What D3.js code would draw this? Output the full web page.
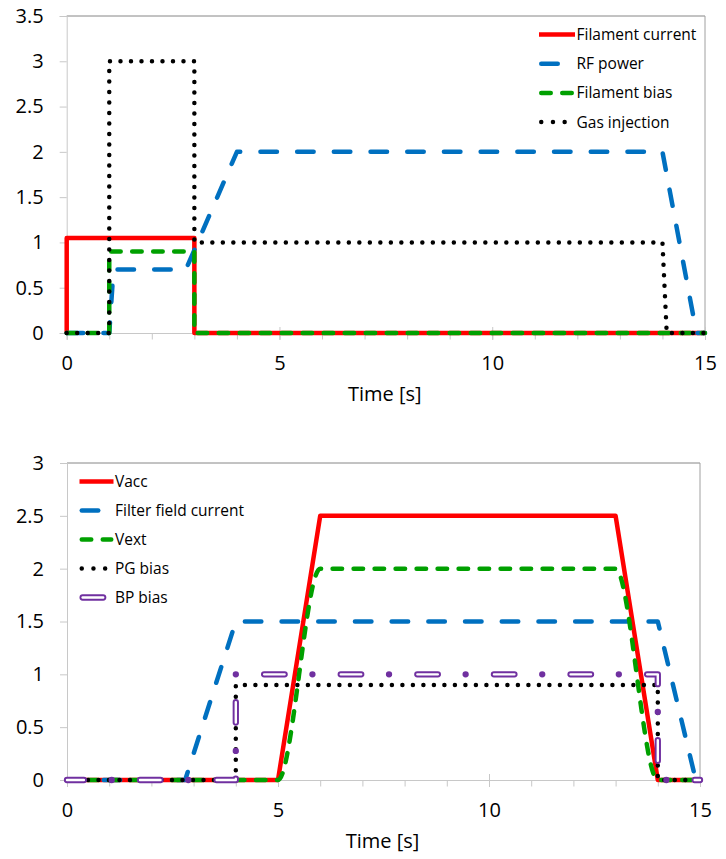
<!DOCTYPE html>
<html>
<head>
<meta charset="utf-8">
<script src="https://cdn.jsdelivr.net/npm/d3@7"></script>
<style>
  body { margin: 0; background: #fff; }
  svg { display: block; }
  text { font-family: "Open Sans", "Noto Sans", sans-serif; fill: #000; }
</style>
</head>
<body>
<script>
// time axis
const timeMajor = [0, 5, 10, 15];
const timeMinor = d3.range(0, 16);

// top panel: source start-up
const topYTicks = [0, 0.5, 1, 1.5, 2, 2.5, 3, 3.5];
const filamentCurrent = [[0, 0], [0, 1.05], [3, 1.05], [3, 0], [15, 0]];
const rfPower = [[0, 0], [1, 0], [1.1, 0.7], [2.8, 0.7], [4, 2], [14, 2], [14.8, 0], [15, 0]];
const filamentBias = [[0, 0], [1, 0], [1, 0.9], [3, 0.9], [3, 0], [15, 0]];
const gasInjection = [[0, 0], [1, 0], [1, 3], [3, 3], [3, 1], [14, 1], [14.1, 0], [15, 0]];

// bottom panel: beam extraction
const bottomYTicks = [0, 0.5, 1, 1.5, 2, 2.5, 3];
const vacc = [[0, 0], [5, 0], [6, 2.5], [13, 2.5], [14, 0], [15, 0]];
const filterField = [[0, 0], [2.8, 0], [4, 1.5], [14, 1.5], [14.9, 0], [15, 0]];
const vext = [[0, 0], [5, 0], [6, 2], [13, 2], [14, 0], [15, 0]];
const pgBias = [[0, 0], [4, 0], [4, 0.9], [14, 0.9], [14, 0], [15, 0]];
const bpBias = [[0, 0], [4, 0], [4, 1], [14, 1], [14, 0], [15, 0]];

const svg = d3.select('body').append('svg')
    .attr('width', 726)
    .attr('height', 859);

// line looks
const styles = {
    red: { color: '#ff0000', width: 4.5, dash: null },
    blue: { color: '#0070c0', width: 4.5, dash: '16.5,20.2', cap: 'round' },
    green: { color: '#00a000', width: 4.5, dash: '9.5,11.5', cap: 'round' },
    dots: { color: '#000', width: 4.5, dash: '0,10.5', legendDash: '0,11.7', cap: 'round' },
    purple: { color: '#7030a0', width: 6.3, dash: '20.5,27.8,0,28.3', inner: '20.5,56.1', offset: 3.6, cap: 'round', hollow: true }
};

function drawPanel(opt) {
    const g = svg.append('g');
    const x = d3.scaleLinear().domain([0, 15]).range([opt.left, opt.right]);
    const y = d3.scaleLinear().domain([0, opt.yMax]).range([opt.bottom, opt.top]);

    // plot frame: dark top/right, light axes
    g.append('line').attr('x1', opt.left).attr('x2', opt.right).attr('y1', opt.top).attr('y2', opt.top)
        .style('stroke', '#868686').style('stroke-width', 1);
    g.append('line').attr('x1', opt.right).attr('x2', opt.right).attr('y1', opt.top).attr('y2', opt.bottom)
        .style('stroke', '#a0a0a0').style('stroke-width', 1);

    const yAxis = g.append('g').attr('transform', 'translate(' + opt.left + ',0)')
        .call(d3.axisLeft(y).tickValues(opt.yTicks).tickSize(7).tickPadding(16).tickFormat(d => String(d)));
    yAxis.selectAll('path, line').style('stroke', '#c8c8c8');
    yAxis.selectAll('text').style('font-size', '20px').style('font-family', '"Open Sans", sans-serif');

    const minor = g.append('g').attr('transform', 'translate(0,' + opt.bottom + ')')
        .call(d3.axisBottom(x).tickValues(timeMinor).tickSize(6.5).tickFormat(''));
    minor.selectAll('path, line').style('stroke', '#c8c8c8');
    minor.select('path').remove();

    const xAxis = g.append('g').attr('transform', 'translate(0,' + opt.bottom + ')')
        .call(d3.axisBottom(x).tickValues(timeMajor).tickSize(7).tickSizeOuter(0));
    xAxis.selectAll('path, line').style('stroke', '#c8c8c8');
    xAxis.selectAll('.tick line').attr('y1', -6);
    xAxis.selectAll('text').attr('y', 23).style('font-size', '20px')
        .style('font-family', '"Open Sans", sans-serif');

    g.append('text')
        .attr('x', (opt.left + opt.right) / 2 - 1)
        .attr('y', opt.bottom + 68)
        .attr('text-anchor', 'middle')
        .style('font-size', '20px')
        .text('Time [s]');

    const line = d3.line().x(d => x(d[0])).y(d => y(d[1]));

    opt.series.forEach(s => {
        const st = styles[s.style];
        const gen = s.smooth ? d3.line().x(d => x(d[0])).y(d => y(d[1])).curve(d3.curveMonotoneX) : line;
        drawStroke(g.append('path').datum(s.data).attr('d', gen), st, false);
    });

    // legend
    opt.series.forEach((s, i) => {
        const st = styles[s.style];
        const ly = opt.legendY + i * opt.legendStep;
        const x1 = opt.legendX, x2 = opt.legendX + opt.legendLen;
        const p = g.append('path').attr('d', 'M' + (st.cap ? x1 + st.width / 2 : x1) + ',' + ly + 'H' + (st.cap ? x2 - st.width / 2 : x2));
        drawStroke(p, st, true);
        g.append('text')
            .attr('x', x2 + 1.5)
            .attr('y', ly)
            .attr('dy', '0.35em')
            .style('font-size', '15.5px')
            .text(s.name);
    });
}

function drawStroke(p, st, legend) {
    p.style('fill', 'none')
        .style('stroke', st.color)
        .style('stroke-width', st.width)
        .style('stroke-linejoin', 'round')
        .style('stroke-linecap', st.cap || 'butt');
    let dash = st.dash;
    if (legend && st.legendDash) dash = st.legendDash;
    if (dash) p.style('stroke-dasharray', dash);
    if (st.offset && !legend) p.style('stroke-dashoffset', st.offset);
    if (st.hollow) {
        const inner = p.clone()
            .style('stroke', '#fff')
            .style('stroke-width', 2.4)
            .style('stroke-dasharray', st.inner);
        if (legend) inner.style('stroke-dashoffset', 0);
    }
}

drawPanel({
    left: 66.7, right: 705, top: 16, bottom: 333, yMax: 3.5, yTicks: topYTicks,
    legendX: 539, legendLen: 36, legendY: 34.5, legendStep: 29.2,
    series: [
        { name: 'Filament current', data: filamentCurrent, style: 'red' },
        { name: 'RF power', data: rfPower, style: 'blue' },
        { name: 'Filament bias', data: filamentBias, style: 'green' },
        { name: 'Gas injection', data: gasInjection, style: 'dots' }
    ]
});

drawPanel({
    left: 67, right: 700, top: 463, bottom: 780, yMax: 3, yTicks: bottomYTicks,
    legendX: 79.5, legendLen: 34, legendY: 481.5, legendStep: 29,
    series: [
        { name: 'Vacc', data: vacc, style: 'red' },
        { name: 'Filter field current', data: filterField, style: 'blue' },
        { name: 'Vext', data: vext, style: 'green', smooth: true },
        { name: 'PG bias', data: pgBias, style: 'dots' },
        { name: 'BP bias', data: bpBias, style: 'purple' }
    ]
});
</script>
</body>
</html>
